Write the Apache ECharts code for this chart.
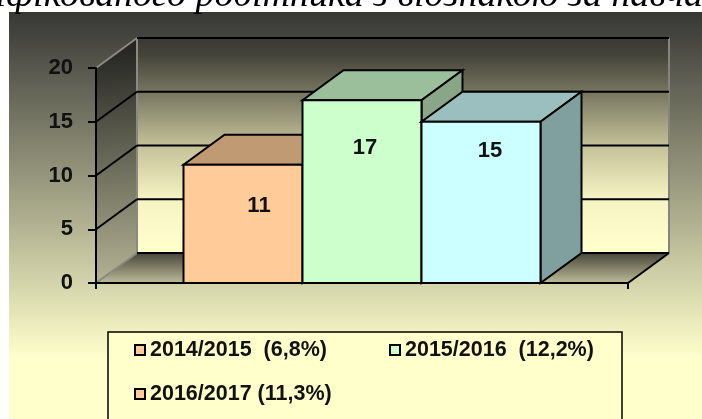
<!DOCTYPE html>
<html>
<head>
<meta charset="utf-8">
<style>html,body{margin:0;padding:0;background:#fff;overflow:hidden}#chart{width:702px;height:419px}</style>
<script src="https://cdn.jsdelivr.net/npm/echarts@6/dist/echarts.min.js"></script>
</head>
<body>
<div id="chart"></div>
<script>
// data
const years = ['2014/2015  (6,8%)', '2015/2016  (12,2%)', '2016/2017 (11,3%)'];
const counts = [11, 17, 15];
const yTicks = [0, 5, 10, 15, 20];
const titleText = 'кваліфікованого робітника з відзнакою за навчання';

// look of the fake 3d
const depthX = 41, depthY = -30;
const barShare = 119 / 532;
const fronts = ['#ffcc99', '#ccffcc', '#ccffff'];
const tops = ['#c09a73', '#9abf9a', '#9bbfbf'];
const sides = ['#a88a68', '#8aa689', '#80a0a0'];
const swatches = ['#ffcc99', '#ccffcc', '#ffcc99'];
const labelShift = [[16, 41], [3, 48], [9, 29]];

function poly(pts, fill, stroke, lw) {
    return { type: 'polygon', shape: { points: pts }, style: { fill: fill, stroke: stroke, lineWidth: lw } };
}

function vgrad(stops) {
    return new echarts.graphic.LinearGradient(0, 0, 0, 1, stops.map(s => ({ offset: s[0], color: s[1] })));
}

// back wall, side wall, floor and the grid lines on them
function renderWalls(params, api) {
    const cs = params.coordSys;
    const left = cs.x, right = cs.x + cs.width;
    const v = api.value(0);
    const y = api.coord([0, v])[1];
    const kids = [];
    if (params.dataIndex === 0) {
        const top = cs.y, bottom = cs.y + cs.height;
        kids.push(poly([[left + depthX, top + depthY], [right + depthX, top + depthY], [right + depthX, bottom + depthY], [left + depthX, bottom + depthY]],
            vgrad([[0, '#383836'], [0.08, '#454439'], [0.25, '#76755f'], [0.5, '#c4c199'], [0.75, '#f6f3c3'], [1, '#ffffcc']]), null, 0));
        kids.push(poly([[left, top], [left + depthX, top + depthY], [left + depthX, bottom + depthY], [left, bottom]],
            new echarts.graphic.LinearGradient(0, 0, 0.35, 1, [{ offset: 0, color: '#1e1e1d' }, { offset: 1, color: '#b4b394' }]), null, 0));
        kids.push(poly([[left, bottom], [left + depthX, bottom + depthY], [right + depthX, bottom + depthY], [right, bottom]],
            vgrad([[0, '#47463a'], [1, '#bdbb98']]), null, 0));
        kids.push({ type: 'line', shape: { x1: left + depthX, y1: top + depthY, x2: left + depthX, y2: bottom + depthY }, style: { stroke: '#8a8a80', lineWidth: 2 } });
        kids.push({ type: 'line', shape: { x1: right + depthX, y1: top + depthY, x2: right + depthX, y2: bottom + depthY }, style: { stroke: '#85857c', lineWidth: 2 } });
        kids.push({ type: 'line', shape: { x1: right, y1: bottom, x2: right + depthX, y2: bottom + depthY }, style: { stroke: '#000', lineWidth: 2 } });
    }
    const edgeColor = (v === 0 || v === 20) ? '#8a8a80' : '#000';
    kids.push({ type: 'line', shape: { x1: left, y1: y, x2: left + depthX, y2: y + depthY }, style: { stroke: edgeColor, lineWidth: 2 } });
    kids.push({ type: 'line', shape: { x1: left + depthX, y1: y + depthY, x2: right + depthX, y2: y + depthY }, style: { stroke: '#000', lineWidth: 2 } });
    return { type: 'group', children: kids };
}

function renderBar(idx) {
    return function (params, api) {
        const band = api.size([1, 0])[0];
        const w = band * barShare;
        const mid = api.coord([0, 0])[0];
        const base = api.coord([0, 0])[1];
        const y = api.coord([0, api.value(1)])[1];
        const l = mid + (idx - 1.5) * w, r = l + w;
        const st = '#000';
        return {
            type: 'group',
            children: [
                poly([[l, y], [l + depthX, y + depthY], [r + depthX, y + depthY], [r, y]], tops[idx], st, 2),
                poly([[r, y], [r + depthX, y + depthY], [r + depthX, base + depthY], [r, base]], sides[idx], st, 2),
                poly([[l, y], [r, y], [r, base], [l, base]], fronts[idx], st, 2),
                {
                    type: 'text',
                    style: {
                        x: (l + r) / 2 + labelShift[idx][0], y: y + labelShift[idx][1],
                        text: String(api.value(1)),
                        fill: '#111', font: 'bold 22px "Liberation Sans"', align: 'center', verticalAlign: 'middle'
                    }
                }
            ]
        };
    };
}

const chart = echarts.init(document.getElementById('chart'), null, { renderer: 'canvas' });

const series = [{
    type: 'custom',
    name: 'walls',
    renderItem: renderWalls,
    data: yTicks.map(t => [t]),
    encode: { y: 0 },
    silent: true,
    z: 1
}].concat(years.map((name, i) => ({
    type: 'custom',
    name: name,
    renderItem: renderBar(i),
    data: [[0, counts[i]]],
    encode: { x: 0, y: 1 },
    itemStyle: { color: fronts[i] },
    z: 2 + i
})));

chart.setOption({
    animation: false,
    title: {
        text: titleText,
        left: -79,
        top: -28,
        z: 0,
        textStyle: { fontFamily: 'Liberation Serif', fontStyle: 'italic', fontWeight: 'normal', fontSize: 38, color: '#000' }
    },
    graphic: [{
        type: 'rect',
        z: 0,
        zlevel: 0,
        shape: { x: 9, y: 12, width: 693, height: 407 },
        style: { fill: vgrad([[0, '#373735'], [0.85, '#ffffcc'], [1, '#ffffcc']]) }
    }],
    grid: { left: 96, top: 68, width: 532, height: 215 },
    xAxis: {
        type: 'category',
        data: [''],
        axisLine: { lineStyle: { color: '#000', width: 2 } },
        axisTick: { show: true, length: 6, lineStyle: { color: '#000', width: 2 } },
        axisLabel: { show: false },
        z: 8
    },
    yAxis: {
        type: 'value',
        min: 0,
        max: 20,
        interval: 5,
        splitLine: { show: false },
        axisLine: { show: true, lineStyle: { color: '#000', width: 2 } },
        axisTick: { show: true, length: 8, lineStyle: { color: '#000', width: 2 } },
        axisLabel: { color: '#111', fontFamily: 'Liberation Sans', fontWeight: 'bold', fontSize: 22, margin: 23 },
        z: 8
    },
    legend: {
        data: years.map((n, i) => ({ name: n, itemStyle: { color: swatches[i] } })),
        left: 108,
        top: 332,
        width: 540,
        padding: [7, 0, 60, 26],
        itemGap: 22,
        itemWidth: 10,
        itemHeight: 10,
        icon: 'rect',
        backgroundColor: '#ffffcc',
        borderColor: '#000',
        borderWidth: 1.5,
        itemStyle: { borderColor: '#000', borderWidth: 2 },
        formatter: function (name) {
            return '{n|' + name + '}';
        },
        textStyle: {
            rich: {
                n: { width: 217, height: 22, lineHeight: 22, color: '#111', fontFamily: 'Liberation Sans', fontWeight: 'bold', fontSize: 21.5 }
            }
        },
        selectedMode: false
    },
    series: series
});

window.addEventListener('resize', function () {
    chart.resize();
});
</script>
</body>
</html>
